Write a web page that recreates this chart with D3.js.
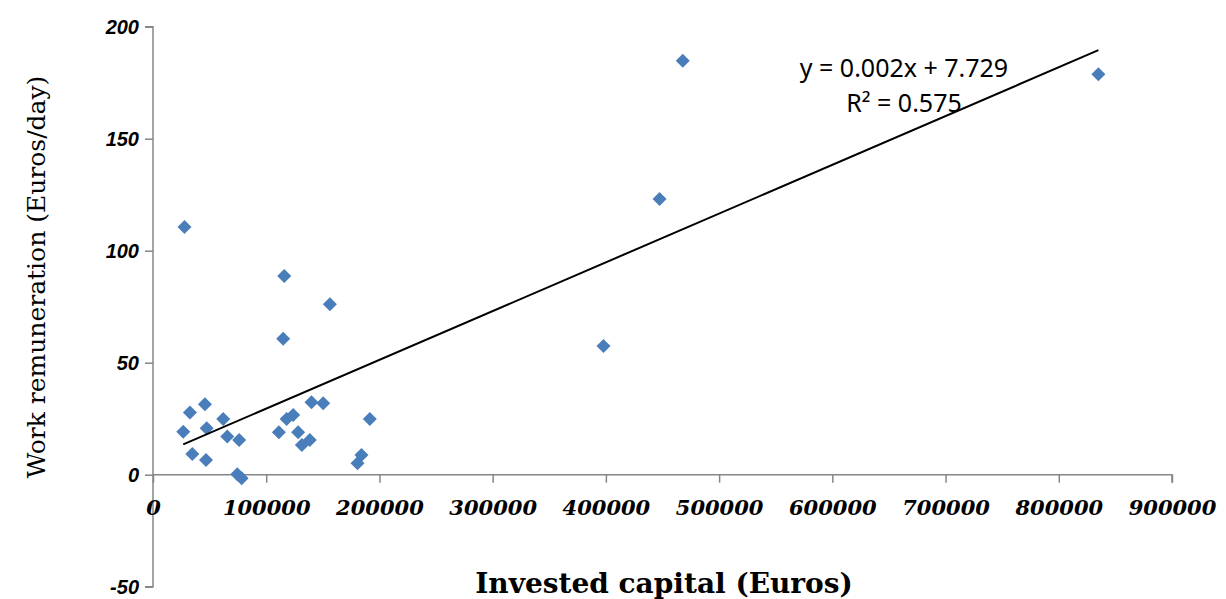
<!DOCTYPE html>
<html>
<head>
<meta charset="utf-8">
<script src="https://cdn.jsdelivr.net/npm/d3@7"></script>
<style>
  body { margin: 0; background: #fff; }
  .axis path, .axis line { stroke: #868686; stroke-width: 1.5; }
</style>
</head>
<body>
<div class="chart"></div>
<script>
// invested capital (Euros) per farm
const capital = [27800, 115900, 156200, 115000, 397900, 447400, 467900, 835000,
  32600, 45900, 26700, 47400, 62000, 65600, 76100, 34700, 46800, 74400, 78300,
  111200, 118000, 123800, 128200, 131500, 138500, 140000, 150300, 180600, 184100, 191500]
// work remuneration (Euros/day)
const remuneration = [110.6, 88.7, 76.1, 60.7, 57.5, 123.1, 184.8, 178.8,
  27.8, 31.4, 19.2, 20.7, 24.9, 17.0, 15.5, 9.2, 6.6, 0.2, -1.6,
  18.9, 24.9, 26.7, 18.9, 13.3, 15.5, 32.3, 31.9, 5.1, 8.8, 24.9]

const xTicks = [0, 100000, 200000, 300000, 400000, 500000, 600000, 700000, 800000, 900000]
const yTicks = [-50, 0, 50, 100, 150, 200]

// linear trend (as shown on the chart)
const trendSlope = 0.0002177
const trendIntercept = 7.729
const trendLabels = ["y = 0.002x + 7.729", "R² = 0.575"]

const width = 1226, height = 599
const margin = { top: 26.7, right: 54, bottom: 12.3, left: 153 }

const svg = d3.select(".chart").append("svg")
  .attr("width", width).attr("height", height)

const xScale = d3.scaleLinear().domain([0, 900000]).range([margin.left, width - margin.right])
const yScale = d3.scaleLinear().domain([-50, 200]).range([height - margin.bottom, margin.top])

// y axis
const yAxis = d3.axisLeft(yScale).tickValues(yTicks).tickSize(8).tickFormat(d => d)
const yAxisGroup = svg.append("g").attr("class", "axis")
  .attr("transform", `translate(${margin.left}, 0)`)
  .call(yAxis)
yAxisGroup.select(".domain").attr("d", `M-8,${yScale(200)}H0V${yScale(-50)}H-8`)
yAxisGroup.selectAll("text")
  .attr("x", -14)
  .style("font-family", "'Liberation Sans', Arial, sans-serif")
  .style("font-size", "20px")
  .style("font-weight", "bold")
  .style("font-style", "italic")
  .attr("fill", "#000")

// x axis sits on y = 0
const xAxis = d3.axisBottom(xScale).tickValues(xTicks).tickSize(8).tickFormat(d => d)
const xAxisGroup = svg.append("g").attr("class", "axis")
  .attr("transform", `translate(0, ${yScale(0)})`)
  .call(xAxis)
xAxisGroup.select(".domain").attr("d", `M${xScale(0)},0H${xScale(900000)}V8`)
xAxisGroup.selectAll("text")
  .attr("y", 40)
  .attr("dy", 0)
  .style("font-family", "'DejaVu Serif', serif")
  .style("font-size", "21px")
  .style("font-weight", "bold")
  .style("font-style", "italic")
  .attr("fill", "#000")

// axis titles
svg.append("text")
  .attr("x", 664).attr("y", 593)
  .attr("text-anchor", "middle")
  .style("font-family", "'DejaVu Serif', serif")
  .style("font-size", "28px")
  .style("font-weight", "bold")
  .text("Invested capital (Euros)")

svg.append("text")
  .attr("transform", "translate(45, 277) rotate(-90)")
  .attr("text-anchor", "middle")
  .style("font-family", "'DejaVu Serif', serif")
  .style("font-size", "25px")
  .text("Work remuneration (Euros/day)")

// points
const points = capital.map((c, i) => ({ x: c, y: remuneration[i] }))
svg.append("g").selectAll("path")
  .data(points)
  .enter()
  .append("path")
  .attr("d", d3.symbol().type(d3.symbolDiamond2).size(125))
  .attr("transform", d => `translate(${xScale(d.x)}, ${yScale(d.y)})`)
  .attr("fill", "#4a7ebb")

// trend line
const xExtent = d3.extent(capital)
const trend = xExtent.map(x => ({ x, y: trendIntercept + trendSlope * x }))
svg.append("path")
  .datum(trend)
  .attr("d", d3.line().x(d => xScale(d.x)).y(d => yScale(d.y)))
  .attr("stroke", "#000")
  .attr("stroke-width", 2)
  .attr("fill", "none")

// trend equation
svg.append("g").selectAll("text")
  .data(trendLabels)
  .enter()
  .append("text")
  .attr("x", 904)
  .attr("y", (d, i) => 77 + i * 35)
  .attr("text-anchor", "middle")
  .style("font-family", "'Noto Sans', sans-serif")
  .style("font-size", "25px")
  .text(d => d)
</script>
</body>
</html>
